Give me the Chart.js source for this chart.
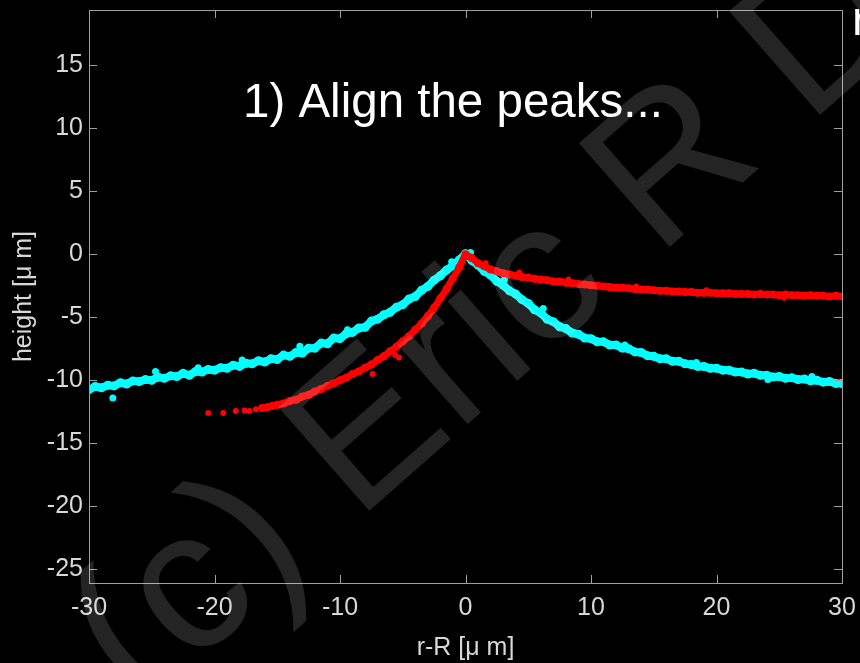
<!DOCTYPE html>
<html>
<head>
<meta charset="utf-8">
<script src="https://cdn.jsdelivr.net/npm/chart.js@4.4.1/dist/chart.umd.min.js"></script>
<style>
  html, body { margin: 0; padding: 0; background: #000; }
  #plot { display: block; }
</style>
</head>
<body>
<canvas id="plot" width="860" height="663"></canvas>
<script>
// profile data
const cyanX = [
  -30, -29.5, -29, -28.5, -28, -27.5, -27, -26.5, -26, -25.5, -25, -24.5, -24, -23.5, -23, -22.5,
  -22, -21.5, -21, -20.5, -20, -19.5, -19, -18.5, -18, -17.5, -17, -16.5, -16, -15.5, -15, -14.5,
  -14, -13.5, -13, -12.5, -12, -11.5, -11, -10.5, -10, -9.5, -9, -8.5, -8, -7.5, -7, -6.5,
  -6, -5.5, -5, -4.5, -4, -3.5, -3, -2.5, -2, -1.5, -1, -0.5, 0,
  0.5, 1, 1.5, 2, 2.5, 3, 3.5, 4, 4.5, 5, 5.5, 6, 6.5, 7, 7.5, 8,
  8.5, 9, 9.5, 10, 10.5, 11, 11.5, 12, 12.5, 13, 13.5, 14, 14.5, 15, 15.5, 16,
  16.5, 17, 17.5, 18, 18.5, 19, 19.5, 20, 20.5, 21, 21.5, 22, 22.5, 23, 23.5, 24,
  24.5, 25, 25.5, 26, 26.5, 27, 27.5, 28, 28.5, 29, 29.5, 30
];
const cyanY = [
  -10.75, -10.5, -10.6, -10.4, -10.45, -10.2, -10.3, -10.05, -10.1, -9.95, -10.0, -9.75, -9.85, -9.65, -9.7, -9.45,
  -9.6, -9.3, -9.35, -9.15, -9.2, -9.0, -9.05, -8.8, -8.9, -8.65, -8.7, -8.45, -8.55, -8.3, -8.35, -8.0,
  -8.1, -7.8, -7.85, -7.45, -7.45, -7.05, -7.1, -6.65, -6.7, -6.3, -6.2, -5.85, -5.8, -5.3, -5.15, -4.8,
  -4.6, -4.2, -4.0, -3.55, -3.35, -2.85, -2.55, -2.05, -1.7, -1.25, -0.9, -0.45, 0.05,
  -0.5, -0.85, -1.35, -1.65, -2.15, -2.45, -2.9, -3.15, -3.6, -3.9, -4.4, -4.65, -5.15, -5.35, -5.75, -5.9,
  -6.25, -6.35, -6.65, -6.7, -6.95, -6.95, -7.2, -7.2, -7.45, -7.5, -7.75, -7.8, -8.05, -8.1, -8.3, -8.3,
  -8.5, -8.5, -8.7, -8.75, -8.9, -8.9, -9.05, -9.05, -9.2, -9.2, -9.35, -9.35, -9.5, -9.45, -9.6, -9.6,
  -9.75, -9.7, -9.85, -9.8, -9.95, -9.9, -10.05, -10.0, -10.15, -10.1, -10.25, -10.25
];
const cyanOutX = [-28.1, -24.7, -13.2, 0.4, -1.1, 3.1, -21.3, -17.8, -9.4, 6.2, 12.7, 18.4, 24.1, 27.6];
const cyanOutY = [-11.4, -9.3, -7.3, 0.15, -0.6, -2.0, -9.0, -8.4, -6.0, -4.3, -7.2, -8.6, -9.95, -9.7];
const redX = [
  -16.2, -15.8, -15.4, -15, -14.5, -14, -13.5, -13, -12.5, -12,
  -11.5, -11, -10.5, -10, -9.5, -9, -8.5, -8, -7.5, -7, -6.5, -6, -5.5, -5, -4.5, -4,
  -3.5, -3, -2.5, -2, -1.5, -1, -0.5, 0,
  0.5, 1, 1.5, 2, 2.5, 3, 3.5, 4, 4.5, 5, 5.5, 6, 6.5, 7, 7.5, 8,
  8.5, 9, 9.5, 10, 10.5, 11, 11.5, 12, 12.5, 13, 13.5, 14, 14.5, 15, 15.5, 16,
  16.5, 17, 17.5, 18, 18.5, 19, 19.5, 20, 20.5, 21, 21.5, 22, 22.5, 23, 23.5, 24,
  24.5, 25, 25.5, 26, 26.5, 27, 27.5, 28, 28.5, 29, 29.5, 30
];
const redY = [
  -12.2, -12.15, -12.05, -11.95, -11.85, -11.65, -11.55, -11.3, -11.15, -10.9,
  -10.7, -10.45, -10.25, -10.0, -9.8, -9.5, -9.3, -9.0, -8.75, -8.4, -8.1, -7.7, -7.35, -6.9, -6.5, -6.0,
  -5.5, -4.9, -4.25, -3.5, -2.75, -1.9, -1.05, 0.0,
  -0.3, -0.7, -0.95, -1.2, -1.35, -1.5, -1.6, -1.7, -1.8, -1.85, -1.95, -2.0, -2.05, -2.15, -2.15, -2.25,
  -2.3, -2.35, -2.4, -2.45, -2.5, -2.55, -2.6, -2.65, -2.65, -2.7, -2.75, -2.8, -2.8, -2.85, -2.9, -2.9,
  -2.95, -2.95, -3.0, -3.0, -3.05, -3.05, -3.05, -3.1, -3.1, -3.1, -3.15, -3.15, -3.15, -3.2, -3.15, -3.2,
  -3.2, -3.25, -3.2, -3.25, -3.25, -3.3, -3.25, -3.3, -3.3, -3.35, -3.3, -3.35
];
const redOutX = [-20.5, -19.3, -18.3, -17.6, -17.2, -16.7, -7.4, -5.3, -5.6, 1.6, 8.2, 4.3, 13.6, 19.2, 25.4];
const redOutY = [-12.6, -12.6, -12.45, -12.4, -12.45, -12.3, -9.5, -8.2, -8.0, -0.7, -2.0, -1.45, -2.55, -2.85, -3.45];
const xTicks = [-30, -20, -10, 0, 10, 20, 30];
const yTicks = [-25, -20, -15, -10, -5, 0, 5, 10, 15];

const FONT = "'Liberation Sans', Arial, sans-serif";
const AXIS_GREY = '#a0a0a0';
const LABEL_GREY = '#d8d8d8';
const CYAN = '#00ffff';
const RED = '#ff0000';

function toPoints(xs, ys) {
  return xs.map((x, i) => ({ x: x, y: ys[i] }));
}

// box, inward ticks, annotation text and watermark
const decorations = {
  id: 'decorations',
  afterDraw(chart) {
    const ctx = chart.ctx;
    const a = chart.chartArea;
    const xs = chart.scales.x;
    const ys = chart.scales.y;
    const tl = 8;

    ctx.save();
    ctx.strokeStyle = AXIS_GREY;
    ctx.lineWidth = 1;
    ctx.strokeRect(Math.round(a.left) + 0.5, Math.round(a.top) + 0.5,
      Math.round(a.right - a.left), Math.round(a.bottom - a.top));
    ctx.beginPath();
    xTicks.forEach(v => {
      const px = Math.round(xs.getPixelForValue(v)) + 0.5;
      ctx.moveTo(px, a.bottom); ctx.lineTo(px, a.bottom - tl);
      ctx.moveTo(px, a.top); ctx.lineTo(px, a.top + tl);
    });
    yTicks.forEach(v => {
      const py = Math.round(ys.getPixelForValue(v)) + 0.5;
      ctx.moveTo(a.left, py); ctx.lineTo(a.left + tl, py);
      ctx.moveTo(a.right, py); ctx.lineTo(a.right - tl, py);
    });
    ctx.stroke();

    ctx.fillStyle = '#ffffff';
    ctx.font = '47.5px ' + FONT;
    ctx.textBaseline = 'alphabetic';
    ctx.textAlign = 'left';
    ctx.fillText('1) Align the peaks...', 243, 117);
    ctx.fillText('r', 852, 35);

    // watermark
    ctx.translate(140, 712);
    ctx.rotate(-41.3 * Math.PI / 180);
    ctx.font = '200px ' + FONT;
    ctx.fillStyle = 'rgba(255,255,255,0.14)';
    ctx.fillText('(c) Eric R Dufresne', 0, 0);
    ctx.restore();
  }
};

function band(label, xs, ys, color, width, radius) {
  return {
    label: label,
    data: toPoints(xs, ys),
    showLine: true,
    borderColor: color,
    borderWidth: width,
    borderJoinStyle: 'round',
    borderCapStyle: 'round',
    backgroundColor: color,
    pointBorderWidth: 0,
    pointRadius: radius
  };
}

function dots(label, xs, ys, color, radius) {
  return {
    label: label,
    data: toPoints(xs, ys),
    showLine: false,
    backgroundColor: color,
    pointBorderWidth: 0,
    pointRadius: radius
  };
}

new Chart(document.getElementById('plot'), {
  type: 'scatter',
  data: {
    datasets: [
      band('red', redX, redY, RED, 7, 4),
      dots('red extra', redOutX, redOutY, RED, 3),
      band('cyan', cyanX, cyanY, CYAN, 8, 4.5),
      dots('cyan extra', cyanOutX, cyanOutY, CYAN, 3.5)
    ]
  },
  options: {
    responsive: false,
    animation: false,
    layout: { padding: { top: 10, right: 18, left: 0, bottom: 0 } },
    plugins: {
      legend: { display: false },
      tooltip: { enabled: false }
    },
    scales: {
      x: {
        type: 'linear',
        min: -30,
        max: 30,
        afterBuildTicks: s => { s.ticks = xTicks.map(v => ({ value: v })); },
        afterFit: s => { s.height = 80; s.paddingLeft = 0; s.paddingRight = 0; },
        grid: { display: false, drawTicks: false },
        border: { display: false },
        ticks: { color: LABEL_GREY, font: { family: FONT, size: 25 }, padding: 10, maxRotation: 0 },
        title: { display: true, text: 'r-R [μ m]', color: LABEL_GREY, font: { family: FONT, size: 25 }, padding: { top: 0, bottom: 0 } }
      },
      y: {
        type: 'linear',
        min: -26.1,
        max: 19.4,
        afterBuildTicks: s => { s.ticks = yTicks.map(v => ({ value: v })); },
        afterFit: s => { s.width = 89; s.paddingTop = 0; s.paddingBottom = 0; },
        grid: { display: false, drawTicks: false },
        border: { display: false },
        ticks: { color: LABEL_GREY, font: { family: FONT, size: 25 }, padding: 6 },
        title: { display: true, text: 'height [μ m]', color: LABEL_GREY, font: { family: FONT, size: 25 }, padding: { top: 9, bottom: 0 } }
      }
    }
  },
  plugins: [decorations]
});
</script>
</body>
</html>
